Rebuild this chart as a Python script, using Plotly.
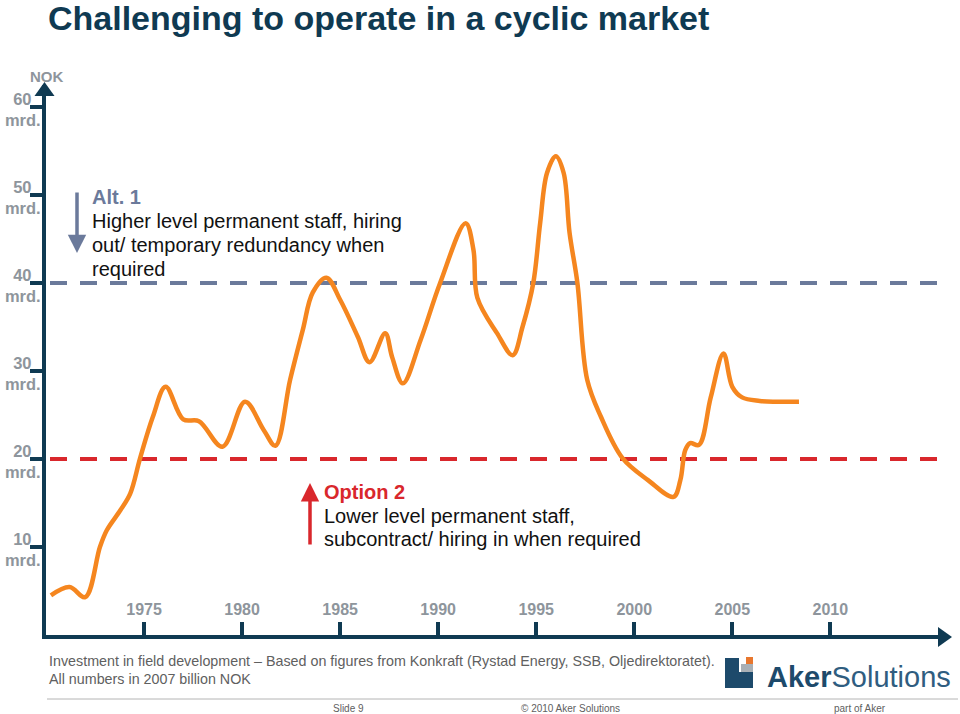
import plotly.graph_objects as go

# ---------------- data ----------------
years = [1970.25, 1971.2, 1972.0, 1972.75, 1973.1, 1973.8, 1974.3, 1974.8, 1975.45, 1976.1,
         1977.0, 1977.8, 1979.0, 1980.15, 1981.1, 1981.7, 1982.45, 1983.1, 1983.6, 1984.3,
         1985.0, 1985.9, 1986.5, 1987.3, 1987.65, 1988.2, 1989.1, 1990.1, 1991.4, 1991.8,
         1992.0, 1993.0, 1993.8, 1994.3, 1994.85, 1995.2, 1995.55, 1996.0, 1996.4, 1996.7,
         1997.1, 1997.6, 1998.3, 1999.4, 2000.7, 2002.0, 2002.35, 2002.6, 2002.85, 2003.3,
         2003.9, 2004.55, 2005.0, 2005.5, 2006.4, 2008.4]
investment = [4.5, 5.45, 4.3, 10.0, 11.9, 14.2, 16.1, 20.1, 24.8, 28.2,
              24.5, 24.3, 21.4, 26.5, 23.3, 21.5, 29.0, 34.7, 38.9, 40.6,
              38.1, 33.9, 31.0, 34.3, 31.6, 28.6, 33.5, 40.0, 46.8, 43.75,
              38.3, 34.3, 31.8, 35.0, 40.0, 46.8, 52.5, 54.4, 52.5, 45.7,
              40.0, 29.0, 24.8, 20.1, 17.6, 15.7, 17.6, 21.0, 21.8, 21.6,
              27.0, 32.0, 28.2, 27.0, 26.6, 26.5]
assert len(years) == len(investment)

x_tick_values = [1975, 1980, 1985, 1990, 1995, 2000, 2005, 2010]
y_tick_values = [10, 20, 30, 40, 50, 60]
y_tick_labels = ["10", "20", "30", "40", "50", "60"]
y_unit = "mrd."
level_alt1 = 40
level_option2 = 20

alt1_lines = ["Alt. 1", "Higher level permanent staff, hiring",
              "out/ temporary redundancy when", "required"]
opt2_lines = ["Option 2", "Lower level permanent staff,",
              "subcontract/ hiring in when required"]

# ---------------- style ----------------
NAVY = "#0f3a52"
GREY_LBL = "#8e959c"
SLATE = "#6b7a9b"
RED = "#d9272c"
ORANGE = "#f5861f"
FONT = "Liberation Sans, Arial, sans-serif"

W, H = 960, 714
L, R, T, B = 46, 12, 85, 79
PW, PH = W - L - R, H - T - B


def px(xp):
    return (xp - L) / PW


def py(yp):
    return (H - B - yp) / PH


fig = go.Figure()
fig.add_trace(go.Scatter(
    x=years, y=investment, mode="lines",
    line=dict(color=ORANGE, width=4.5, shape="spline", smoothing=1.0),
    hoverinfo="skip", showlegend=False))

shapes = []
# reference levels
for lvl, col in [(level_alt1, SLATE), (level_option2, RED)]:
    shapes.append(dict(type="line", xref="paper", yref="y", x0=px(50), x1=px(942),
                       y0=lvl, y1=lvl, layer="below",
                       line=dict(color=col, width=4, dash="17px,13px")))
# axis arrow heads
shapes.append(dict(type="path", xref="paper", yref="paper",
                   path=f"M {px(44.5)} {py(82)} L {px(34.5)} {py(96)} L {px(54.5)} {py(96)} Z",
                   fillcolor=NAVY, line=dict(width=0)))
shapes.append(dict(type="path", xref="paper", yref="paper",
                   path=f"M {px(952)} {py(637)} L {px(938)} {py(627)} L {px(938)} {py(647)} Z",
                   fillcolor=NAVY, line=dict(width=0)))
# footer rule
shapes.append(dict(type="line", xref="paper", yref="paper", x0=px(47), x1=px(958),
                   y0=py(699), y1=py(699), line=dict(color="#b4b4b4", width=1)))
# logo icon
for (x0, y0, x1, y1, c) in [(725, 658, 739, 688, "#1d4a6b"), (739, 672, 753, 688, "#1d4a6b"),
                            (741, 664, 753, 672, "#a9b0b6"), (746, 657, 753, 664, "#e8772e")]:
    shapes.append(dict(type="rect", xref="paper", yref="paper", x0=px(x0), x1=px(x1),
                       y0=py(y1), y1=py(y0), fillcolor=c, line=dict(width=0)))

ann = []
# title
ann.append(dict(xref="paper", yref="paper", x=px(46), y=py(18), xanchor="left", yanchor="middle",
                text="<b>Challenging to operate in a cyclic market</b>", showarrow=False,
                font=dict(family=FONT, size=34, color=NAVY)))
# NOK
ann.append(dict(xref="paper", yref="paper", x=px(47), y=py(76), xanchor="center", yanchor="middle",
                text="<b>NOK</b>", showarrow=False, font=dict(family=FONT, size=15, color=GREY_LBL)))
# Alt 1 text
for i, t in enumerate(alt1_lines):
    bold = i == 0
    ann.append(dict(xref="paper", yref="paper", x=px(90), y=py(197 + 24 * i), xanchor="left",
                    yanchor="middle", text=f"<b>{t}</b>" if bold else t, showarrow=False,
                    font=dict(family=FONT, size=20, color=SLATE if bold else "#111111")))
for i, t in enumerate(opt2_lines):
    bold = i == 0
    ann.append(dict(xref="paper", yref="paper", x=px(322), y=py(492 + 23.5 * i), xanchor="left",
                    yanchor="middle", text=f"<b>{t}</b>" if bold else t, showarrow=False,
                    font=dict(family=FONT, size=20, color=RED if bold else "#111111")))
# arrows
ann.append(dict(xref="paper", yref="paper", x=px(77), y=py(253), ax=0, ay=-62, text="",
                showarrow=True, arrowhead=2, arrowsize=1.05, arrowwidth=3.5, arrowcolor=SLATE))
ann.append(dict(xref="paper", yref="paper", x=px(310), y=py(483), ax=0, ay=63, text="",
                showarrow=True, arrowhead=2, arrowsize=1.05, arrowwidth=3.5, arrowcolor=RED))
# footer
ann.append(dict(xref="paper", yref="paper", x=px(47), y=py(661), xanchor="left", yanchor="middle",
                text="Investment in field development \u2013 Based on figures from Konkraft (Rystad Energy, SSB, Oljedirektoratet).",
                showarrow=False, font=dict(family=FONT, size=14.3, color="#606060")))
ann.append(dict(xref="paper", yref="paper", x=px(47), y=py(679), xanchor="left", yanchor="middle",
                text="All numbers in 2007 billion NOK", showarrow=False,
                font=dict(family=FONT, size=14.3, color="#606060")))
for xc, t in [(348, "Slide 9"), (570, "\u00a9 2010 Aker Solutions"), (860, "part of Aker")]:
    ann.append(dict(xref="paper", yref="paper", x=px(xc), y=py(708), xanchor="center", yanchor="middle",
                    text=t, showarrow=False, font=dict(family=FONT, size=10, color="#606060")))
# logo text
ann.append(dict(xref="paper", yref="paper", x=px(765), y=py(677), xanchor="left", yanchor="middle",
                text="<b>Aker</b><span style='color:#2f5d80'>Solutions</span>", showarrow=False,
                font=dict(family=FONT, size=29, color="#1d4a6b")))

fig.update_layout(
    width=W, height=H, margin=dict(l=L, r=R, t=T, b=B, autoexpand=False),
    paper_bgcolor="white", plot_bgcolor="white",
    shapes=shapes, annotations=ann, showlegend=False,
    xaxis=dict(range=[1970, 2016], showgrid=False, zeroline=False, automargin=False,
               showline=True, linecolor=NAVY, linewidth=4,
               tickmode="array", tickvals=x_tick_values, ticktext=[str(v) for v in x_tick_values],
               ticks="inside", ticklen=13, tickwidth=4, tickcolor=NAVY,
               ticklabelposition="inside", ticklabelstandoff=4,
               tickfont=dict(family=FONT, size=16, color=GREY_LBL, weight="bold")),
    yaxis=dict(range=[0, 62.5], showgrid=False, zeroline=False, automargin=False,
               showline=True, linecolor=NAVY, linewidth=4,
               tickmode="array", tickvals=y_tick_values,
               ticktext=[f"{t}\u00a0\u00a0<br>{y_unit}" for t in y_tick_labels],
               ticks="outside", ticklen=12, tickwidth=4, tickcolor=NAVY,
               ticklabelstandoff=-14, ticklabelshift=3,
               tickfont=dict(family=FONT, size=16.5, color=GREY_LBL, weight="bold")),
)

fig.write_html("out.html", config={"displayModeBar": False},
               post_script="document.body.style.margin='0';document.body.style.padding='0';")
